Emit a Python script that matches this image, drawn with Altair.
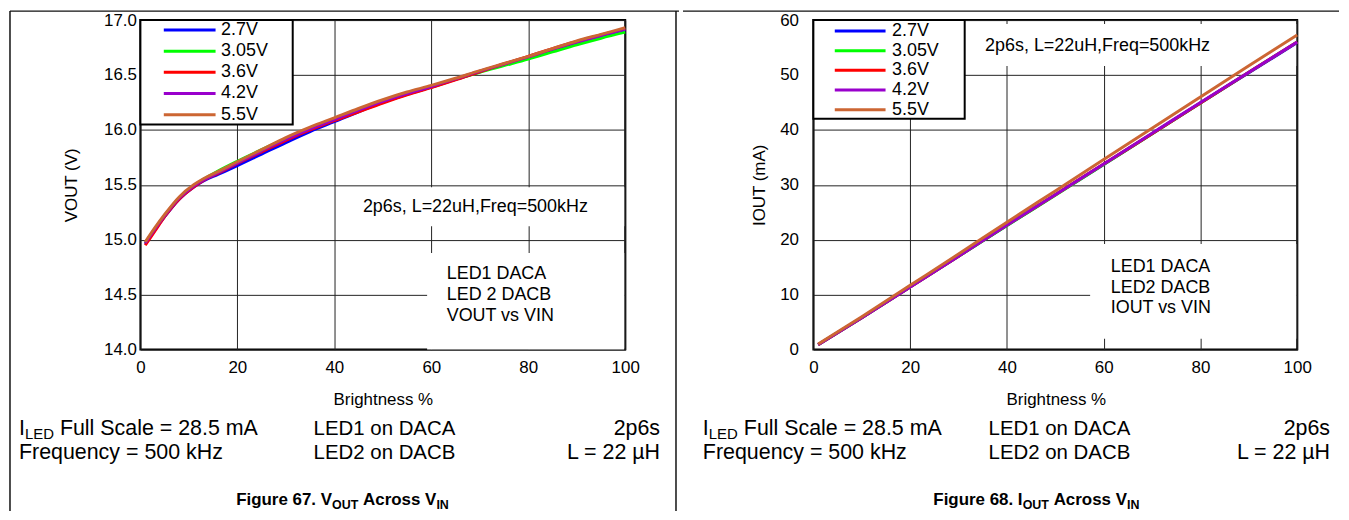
import altair as alt
import pandas as pd

FONT = "Liberation Sans"

series = ["2.7V", "3.05V", "3.6V", "4.2V", "5.5V"]
colors = ["#0000FF", "#00FF00", "#FF0000", "#9900CC", "#CC6633"]

# ---- Figure 67: VOUT vs brightness ----
bright_v = [1, 3, 5, 8, 11, 13, 16, 20, 25, 30, 35, 40, 45, 50, 55, 60, 65, 70, 75, 80, 85, 90, 95, 100]
vout_27 = [14.96, 15.09, 15.21, 15.37, 15.48, 15.535, 15.595, 15.675, 15.78, 15.885, 15.985, 16.075,
           16.165, 16.25, 16.325, 16.39, 16.46, 16.53, 16.595, 16.66, 16.73, 16.795, 16.855, 16.91]
vout_305 = [14.97, 15.10, 15.22, 15.38, 15.49, 15.55, 15.625, 15.715, 15.82, 15.92, 16.01, 16.095,
            16.18, 16.255, 16.325, 16.39, 16.46, 16.525, 16.585, 16.645, 16.71, 16.775, 16.835, 16.89]
vout_36 = [14.95, 15.08, 15.21, 15.37, 15.48, 15.54, 15.605, 15.695, 15.80, 15.905, 16.0, 16.085,
           16.165, 16.245, 16.32, 16.385, 16.455, 16.53, 16.60, 16.67, 16.74, 16.805, 16.865, 16.92]
vout_42 = [14.97, 15.10, 15.22, 15.38, 15.49, 15.545, 15.61, 15.70, 15.81, 15.915, 16.01, 16.095,
           16.18, 16.26, 16.33, 16.395, 16.465, 16.535, 16.60, 16.665, 16.735, 16.80, 16.86, 16.915]
vout_55 = [14.98, 15.11, 15.23, 15.39, 15.50, 15.555, 15.62, 15.71, 15.82, 15.93, 16.025, 16.11,
           16.195, 16.275, 16.345, 16.405, 16.47, 16.54, 16.605, 16.67, 16.74, 16.81, 16.87, 16.93]

# ---- Figure 68: IOUT vs brightness ----
bright_i = [1, 10, 20, 30, 40, 50, 60, 70, 80, 90, 100]
iout_27 = [0.9, 5.8, 11.4, 17.0, 22.6, 28.2, 33.7, 39.3, 44.9, 50.4, 55.9]
iout_305 = [0.9, 5.8, 11.4, 17.0, 22.6, 28.1, 33.7, 39.3, 44.9, 50.5, 56.0]
iout_36 = [0.9, 5.8, 11.4, 17.0, 22.7, 28.2, 33.8, 39.3, 44.9, 50.5, 56.0]
iout_42 = [0.9, 5.8, 11.4, 17.0, 22.7, 28.2, 33.8, 39.4, 45.0, 50.5, 56.0]
iout_55 = [1.0, 6.0, 11.7, 17.4, 23.2, 28.9, 34.6, 40.3, 46.0, 51.7, 57.3]

x_ticks = [0, 20, 40, 60, 80, 100]
v_ticks = [14.0, 14.5, 15.0, 15.5, 16.0, 16.5, 17.0]
i_ticks = [0, 10, 20, 30, 40, 50, 60]


def long_df(xs, ys):
    rows = []
    for s, vals in zip(series, ys):
        for xi, yi in zip(xs, vals):
            rows.append({"b": xi, "v": yi, "s": s})
    return pd.DataFrame(rows)


df_v = long_df(bright_v, [vout_27, vout_305, vout_36, vout_42, vout_55])
df_i = long_df(bright_i, [iout_27, iout_305, iout_36, iout_42, iout_55])

# approximate Arial glyph widths (1/1000 em) for placing subscript pieces
REG = {" ": 278, "%": 889, "(": 333, ")": 333, ",": 278, ".": 278, "=": 584, "µ": 576,
       "A": 667, "B": 667, "C": 722, "D": 722, "E": 667, "F": 611, "H": 722, "I": 278,
       "L": 556, "N": 722, "O": 778, "S": 667, "T": 611, "U": 722, "V": 667,
       "a": 556, "c": 500, "e": 556, "i": 222, "k": 500, "l": 222, "m": 833, "n": 556,
       "o": 556, "p": 556, "q": 556, "r": 333, "s": 500, "u": 556, "y": 500, "z": 500}
BOLD = {" ": 278, ".": 278, "A": 722, "F": 611, "I": 278, "N": 722, "O": 778, "T": 611,
        "U": 722, "V": 667, "c": 556, "e": 556, "g": 611, "i": 278, "o": 611, "r": 389,
        "s": 556, "u": 611}


def tw(s, size, bold=False):
    t = BOLD if bold else REG
    return sum(t.get(c, 556) for c in s) * size / 1000.0


one = pd.DataFrame({"k": [0]})


def txt(s, x, y, size, align="left", bold=False, baseline="alphabetic"):
    return alt.Chart(one).mark_text(
        text=s, align=align, baseline=baseline, fontSize=size,
        fontWeight="bold" if bold else "normal", font=FONT, color="black"
    ).encode(x=alt.value(x), y=alt.value(y))


def hline(x1, x2, y):
    return alt.Chart(one).mark_rule(color="#111111", strokeWidth=1.5).encode(
        x=alt.value(x1), x2=alt.value(x2), y=alt.value(y))


def vline(x, y1, y2):
    return alt.Chart(one).mark_rule(color="#111111", strokeWidth=1.5).encode(
        x=alt.value(x), y=alt.value(y1), y2=alt.value(y2))


def box(x1, x2, y1, y2, stroke=False):
    kw = dict(fill="white")
    if stroke:
        kw.update(stroke="black", strokeWidth=2)
    return alt.Chart(one).mark_rect(**kw).encode(
        x=alt.value(x1), x2=alt.value(x2), y=alt.value(y1), y2=alt.value(y2))


TOP = -9


def footer(ox, col1, col2, col3, fig_prefix, sub1, center):
    R, M, S = 21.5, 20.5, 15
    b1, b2 = 417, 441
    items = []
    x = col1 - ox
    items.append(txt("I", x, b1, R))
    items.append(txt("LED", x + tw("I", R), b1 + 4, S))
    items.append(txt("Full Scale = 28.5 mA", x + tw("I", R) + tw("LED", S) + tw(" ", R), b1, R))
    items.append(txt("LED1 on DACA", col2 - ox, b1, M))
    items.append(txt("2p6s", col3 - ox, b1, R, align="right"))
    items.append(txt("Frequency = 500 kHz", x, b2, R))
    items.append(txt("LED2 on DACB", col2 - ox, b2, M))
    items.append(txt("L = 22 µH", col3 - ox, b2, R, align="right"))
    # caption with subscripts
    C, CS = 17, 12.5
    cb = 487
    total = tw(fig_prefix, C, True) + tw(sub1, CS, True) + tw(" Across V", C, True) + tw("IN", CS, True)
    cx = center - ox - total / 2
    items.append(txt(fig_prefix, cx, cb, C, bold=True))
    cx += tw(fig_prefix, C, True)
    items.append(txt(sub1, cx, cb + 4, CS, bold=True))
    cx += tw(sub1, CS, True)
    items.append(txt("Across V", cx + tw(" ", C, True), cb, C, bold=True))
    cx += tw(" Across V", C, True)
    items.append(txt("IN", cx, cb + 4, CS, bold=True))
    return items


W, H = 487, 331


def lines_layer(df, ydom, yvals, yfmt, ytitle, ytitle_x, ylabpad, legend):
    return alt.Chart(df).mark_line(strokeWidth=3, interpolate="monotone").encode(
        x=alt.X("b:Q", scale=alt.Scale(domain=[0, 100], nice=False),
                axis=alt.Axis(values=x_ticks, title="Brightness %", titleX=W / 2, titleY=50,
                              titleAlign="center", titleBaseline="middle", labelPadding=10,
                              labelFlush=False, format="d")),
        y=alt.Y("v:Q", scale=alt.Scale(domain=ydom, nice=False, zero=False),
                axis=alt.Axis(values=yvals, format=yfmt, title=ytitle, titleX=ytitle_x,
                              titleY=H / 2, titleAngle=270, titleAlign="center",
                              titleBaseline="middle", labelPadding=ylabpad, labelFlush=False)),
        color=alt.Color("s:N", scale=alt.Scale(domain=series, range=colors), legend=legend),
    )


leg_left = alt.Legend(title=None, orient="none", legendX=0, legendY=0, symbolType="stroke",
                      symbolSize=2704, symbolStrokeWidth=3, clipHeight=18, rowPadding=3.25,
                      padding=1, symbolOffset=21, labelOffset=4, labelFontSize=18,
                      labelFont=FONT, labelColor="black")
leg_right = alt.Legend(title=None, orient="none", legendX=0, legendY=0, symbolType="stroke",
                       symbolSize=2601, symbolStrokeWidth=3, clipHeight=18, rowPadding=1.75,
                       padding=2, symbolOffset=18, labelOffset=5, labelFontSize=18,
                       labelFont=FONT, labelColor="black")

# ---- left panel ----
OXL = 139
left_layers = [
    box(216, 486, 168, 207),
    box(288, 486, 234, 331),
    box(0, 153, 0, 105, stroke=True),
    lines_layer(df_v, [14, 17], v_ticks, ".1f", "VOUT (V)", -69, 4, leg_left),
    txt("2p6s, L=22uH,Freq=500kHz", 223.5, 188, 18, baseline="middle"),
    txt("LED1 DACA", 307.7, 255, 18, baseline="middle"),
    txt("LED 2 DACB", 307.7, 276, 18, baseline="middle"),
    txt("VOUT vs VIN", 307.7, 297, 18, baseline="middle"),
    hline(-131, 541, TOP),
    vline(-131, TOP, 493),
    vline(538, TOP, 493),
] + footer(OXL, 17, 313, 661, "Figure 67. V", "OUT", 342)

left = alt.layer(*left_layers).properties(width=W, height=H)

# ---- right panel ----
OXR = 812
right_layers = [
    box(160, 485, 4, 46),
    box(278, 485, 225, 320),
    box(0, 152, 0, 99, stroke=True),
    lines_layer(df_i, [0, 60], i_ticks, "d", "IOUT (mA)", -54, 15, leg_right),
    txt("2p6s, L=22uH,Freq=500kHz", 172.5, 26, 18, baseline="middle"),
    txt("LED1 DACA", 298.7, 248, 18, baseline="middle"),
    txt("LED2 DACB", 298.7, 268.7, 18, baseline="middle"),
    txt("IOUT vs VIN", 298.7, 289, 18, baseline="middle"),
    hline(-131, 528, TOP),
] + footer(OXR, 701, 988, 1331, "Figure 68. I", "OUT", 1036)

right = alt.layer(*right_layers).properties(width=W - 1, height=H)

chart = alt.hconcat(left, right, spacing=0).resolve_scale(color="independent").properties(
    padding={"left": 0, "top": 0, "right": 0, "bottom": 0}
).configure_view(
    stroke="black", strokeWidth=2
).configure_axis(
    labelFont=FONT, labelFontSize=17, labelColor="black",
    titleFont=FONT, titleFontSize=17, titleFontWeight="normal", titleColor="black",
    gridColor="#222222", gridWidth=1, gridOpacity=1,
    ticks=False, tickSize=0, domain=False
).configure_text(font=FONT)

chart.save("out.html", embed_options={"renderer": "svg", "actions": False})
